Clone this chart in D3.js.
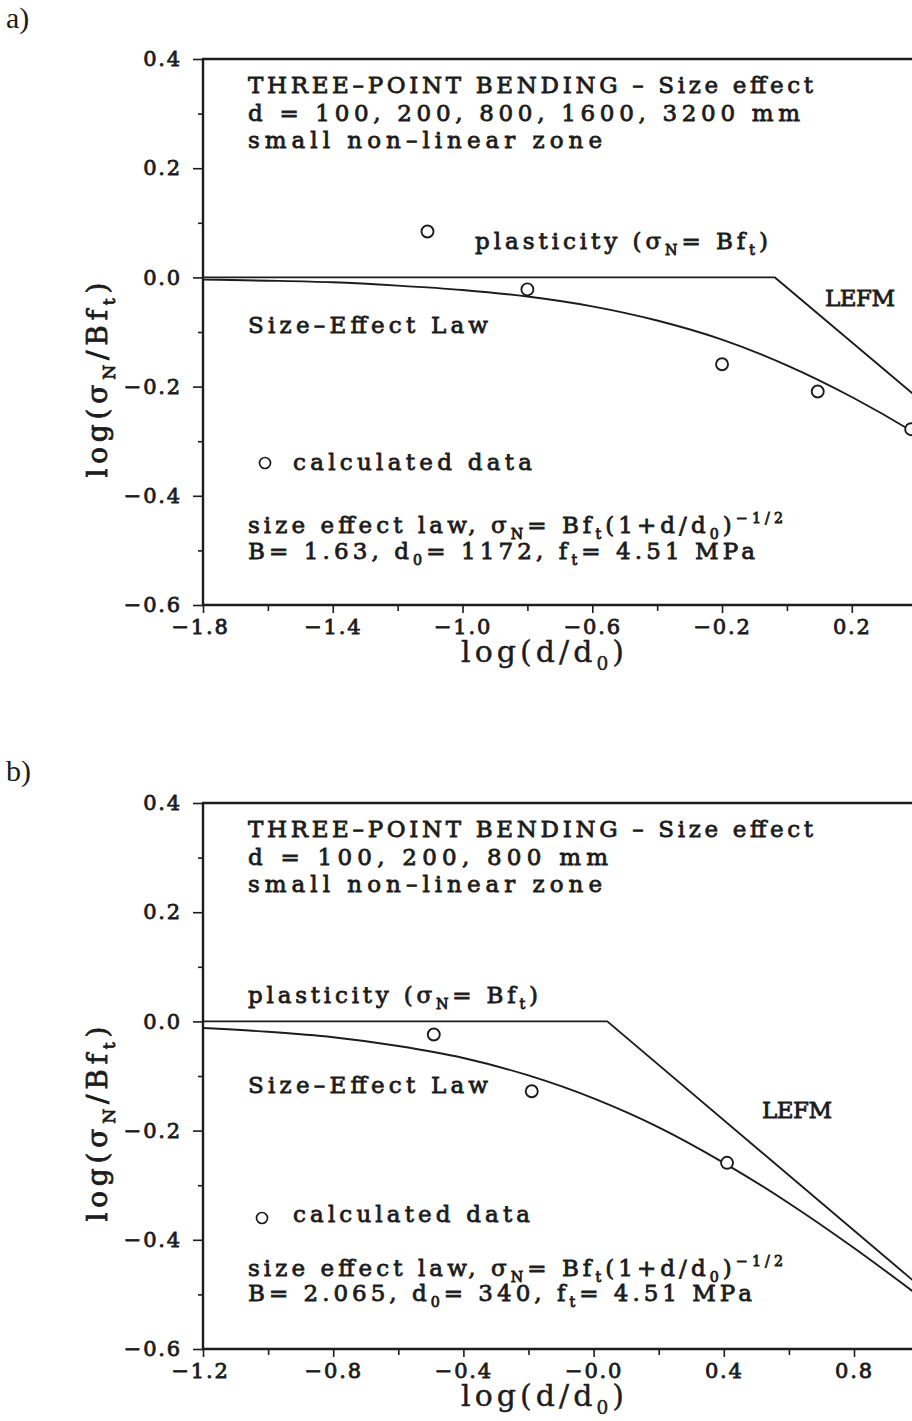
<!DOCTYPE html>
<html>
<head>
<meta charset="utf-8">
<script src="https://cdn.jsdelivr.net/npm/d3@7"></script>
<style>
  body { margin: 0; background: #fff; }
  svg { display: block; }
  text { font-family: "DejaVu Serif", "Liberation Serif", serif; fill: #1c1c1c; }
</style>
</head>
<body>
<div id="chart"></div>
<script>
// ---- values ----
var yTicks = [0.4, 0.2, 0.0, -0.2, -0.4, -0.6];
var yTickLabels = ["0.4", "0.2", "0.0", "\u22120.2", "\u22120.4", "\u22120.6"];
var yMinor = [0.3, 0.1, -0.1, -0.3, -0.5];

// panel a
var aXTicks = [-1.8, -1.4, -1.0, -0.6, -0.2, 0.2];
var aXTickLabels = ["\u22121.8", "\u22121.4", "\u22121.0", "\u22120.6", "\u22120.2", "0.2"];
var aXMinor = [-1.6, -1.2, -0.8, -0.4, 0.0, 0.4];
var aPointsX = [-1.108, -0.800, -0.200, 0.095, 0.383];
var aPointsY = [0.084, -0.022, -0.159, -0.209, -0.278];
var aCurveX = [-1.8, -1.6, -1.4, -1.2, -1.0, -0.8, -0.6, -0.4, -0.2, 0.0, 0.2, 0.4, 0.6];
var aCurveY = [-0.004, -0.006, -0.009, -0.015, -0.023, -0.035, -0.053, -0.079, -0.114, -0.161, -0.219, -0.287, -0.365];
var aLefmX = [-1.8, -0.037, 0.6];
var aLefmY = [0, 0, -0.319];

// panel b
var bXTicks = [-1.2, -0.8, -0.4, 0.0, 0.4, 0.8];
var bXTickLabels = ["\u22121.2", "\u22120.8", "\u22120.4", "\u22120.0", "0.4", "0.8"];
var bXMinor = [-1.0, -0.6, -0.2, 0.2, 0.6, 1.0];
var bPointsX = [-0.491, -0.190, 0.410];
var bPointsY = [-0.024, -0.128, -0.259];
var bCurveX = [-1.2, -1.0, -0.8, -0.6, -0.4, -0.2, 0.0, 0.2, 0.4, 0.6, 0.8, 1.0, 1.2];
var bCurveY = [-0.012, -0.019, -0.029, -0.045, -0.067, -0.099, -0.141, -0.194, -0.259, -0.333, -0.415, -0.503, -0.594];
var bLefmX = [-1.2, 0.042, 1.2];
var bLefmY = [0, 0, -0.585];

var W = 912, H = 1421;
var ink = "#1c1c1c";

var svg = d3.select("#chart").append("svg")
  .attr("width", W)
  .attr("height", H);

// writes a line of text made of plain / sub / sup pieces
function richText(g, parts, x, y, size, len) {
  var t = g.append("text")
    .attr("x", x)
    .attr("y", y)
    .style("font-size", size + "px");
  var shift = 0;
  parts.forEach(function(p) {
    var s = t.append("tspan").text(p[0]);
    var want = p[1] == "sub" ? size * 0.28 : (p[1] == "sup" ? -size * 0.42 : 0);
    if (want != shift) s.attr("dy", want - shift);
    shift = want;
    if (p[1]) s.style("font-size", (size * 0.62) + "px");
  });
  if (len) t.attr("textLength", len).attr("lengthAdjust", "spacing");
  return t;
}

// semi-bold look: regular face with a thin outline
function heavy(sel, w) {
  return sel.attr("stroke", ink).attr("stroke-width", w).attr("paint-order", "stroke");
}

function drawPanel(cfg) {
  var left = 203, top = cfg.top, bottom = cfg.top + 546;
  var g = svg.append("g");

  var x = d3.scaleLinear().domain(cfg.xDomain).range([left, left + 2.4 * cfg.pxPerUnit]);
  var y = d3.scaleLinear().domain([-0.6, 0.4]).range([bottom, top]);

  // minor ticks
  g.append("g")
    .attr("transform", "translate(" + left + ",0)")
    .call(d3.axisLeft(y).tickValues(yMinor).tickSize(5).tickFormat(""))
    .call(function(s) { s.select(".domain").remove(); });
  g.append("g")
    .attr("transform", "translate(0," + bottom + ")")
    .call(d3.axisBottom(x).tickValues(cfg.xMinor).tickSize(6).tickFormat(""))
    .call(function(s) { s.select(".domain").remove(); });

  // major ticks + labels
  var ya = g.append("g")
    .attr("transform", "translate(" + left + ",0)")
    .call(d3.axisLeft(y).tickValues(yTicks).tickSize(10).tickPadding(11)
      .tickFormat(function(d, i) { return yTickLabels[i]; }));
  ya.select(".domain").remove();

  var xa = g.append("g")
    .attr("transform", "translate(0," + bottom + ")")
    .call(d3.axisBottom(x).tickValues(cfg.xTicks).tickSize(8).tickPadding(6)
      .tickFormat(function(d, i) { return cfg.xTickLabels[i]; }));
  xa.select(".domain").remove();
  xa.selectAll(".tick text").filter(function(d, i) { return i == 0; }).attr("dx", cfg.firstDx);

  g.selectAll(".tick line").attr("stroke", ink).attr("stroke-width", 1.6);
  heavy(g.selectAll(".tick text"), 0.8)
    .style("font-family", "DejaVu Serif")
    .style("font-size", "21px")
    .style("letter-spacing", "1.8px")
    .attr("fill", ink);

  // frame: left, top, bottom (right side runs off the page)
  g.append("path")
    .attr("d", "M" + (W + 5) + "," + top + "H" + left + "V" + bottom + "H" + (W + 5))
    .attr("fill", "none")
    .attr("stroke", ink)
    .attr("stroke-width", 2.4);

  var line = d3.line()
    .x(function(d) { return x(d[0]); })
    .y(function(d) { return y(d[1]); });

  g.append("path")
    .datum(cfg.lefmX.map(function(v, i) { return [v, cfg.lefmY[i]]; }))
    .attr("d", line)
    .attr("fill", "none")
    .attr("stroke", ink)
    .attr("stroke-width", 1.9);

  g.append("path")
    .datum(cfg.curveX.map(function(v, i) { return [v, cfg.curveY[i]]; }))
    .attr("d", line.curve(d3.curveMonotoneX))
    .attr("fill", "none")
    .attr("stroke", ink)
    .attr("stroke-width", 1.9);

  g.selectAll("circle.pt")
    .data(cfg.pointsX.map(function(v, i) { return [v, cfg.pointsY[i]]; }))
    .enter()
    .append("circle")
    .attr("class", "pt")
    .attr("cx", function(d) { return x(d[0]); })
    .attr("cy", function(d) { return y(d[1]); })
    .attr("r", 6)
    .attr("fill", "#fff")
    .attr("stroke", ink)
    .attr("stroke-width", 1.9);

  // annotations
  cfg.notes.forEach(function(n) {
    heavy(richText(g, n.parts, n.x, n.y, 23, n.len), 0.8);
  });

  // legend marker for "calculated data"
  g.append("circle")
    .attr("cx", cfg.legend[0])
    .attr("cy", cfg.legend[1])
    .attr("r", 5.5)
    .attr("fill", "none")
    .attr("stroke", ink)
    .attr("stroke-width", 1.7);

  // axis titles
  heavy(richText(g, [["log(d/d", ""], ["0", "sub"], [")", ""]], 461, bottom + 57, 30, 163), 0.4);

  heavy(richText(g, [["log(\u03c3", ""], ["N", "sub"], ["/Bf", ""], ["t", "sub"], [")", ""]], 0, 0, 28, 195), 0.8)
    .attr("text-anchor", "middle")
    .attr("transform", "translate(107," + (top + 321) + ") rotate(-90)");

  // panel letter
  g.append("text")
    .attr("x", 6)
    .attr("y", cfg.letterY)
    .style("font-family", "Liberation Serif")
    .style("font-size", "30px")
    .text(cfg.letter);
}

var heading = [["THREE\u2013POINT BENDING \u2013 Size effect", ""]];
var nonlin = [["small non\u2013linear zone", ""]];
var lawText = [["size effect law, \u03c3", ""], ["N", "sub"], ["= Bf", ""], ["t", "sub"], ["(1+d/d", ""], ["0", "sub"], [")", ""], ["\u22121/2", "sup"]];
var plast = [["plasticity (\u03c3", ""], ["N", "sub"], ["= Bf", ""], ["t", "sub"], [")", ""]];

drawPanel({
  letter: "a)", letterY: 28,
  top: 59,
  xDomain: [-1.8, 0.6],
  pxPerUnit: 324.4,
  xTicks: aXTicks, xTickLabels: aXTickLabels, xMinor: aXMinor, firstDx: -3,
  pointsX: aPointsX, pointsY: aPointsY,
  curveX: aCurveX, curveY: aCurveY,
  lefmX: aLefmX, lefmY: aLefmY,
  legend: [265, 463],
  notes: [
    { parts: heading, x: 248, y: 93, len: 565 },
    { parts: [["d = 100, 200, 800, 1600, 3200 mm", ""]], x: 248, y: 121, len: 552 },
    { parts: nonlin, x: 248, y: 148, len: 354 },
    { parts: plast, x: 475, y: 249, len: 293 },
    { parts: [["LEFM", ""]], x: 825, y: 306, len: 70 },
    { parts: [["Size\u2013Effect Law", ""]], x: 248, y: 333, len: 240 },
    { parts: [["calculated data", ""]], x: 293, y: 470, len: 239 },
    { parts: lawText, x: 248, y: 533, len: 535 },
    { parts: [["B= 1.63, d", ""], ["0", "sub"], ["= 1172, f", ""], ["t", "sub"], ["= 4.51 MPa", ""]], x: 248, y: 559, len: 507 }
  ]
});

drawPanel({
  letter: "b)", letterY: 781,
  top: 803,
  xDomain: [-1.2, 1.2],
  pxPerUnit: 325.5,
  xTicks: bXTicks, xTickLabels: bXTickLabels, xMinor: bXMinor, firstDx: -3,
  pointsX: bPointsX, pointsY: bPointsY,
  curveX: bCurveX, curveY: bCurveY,
  lefmX: bLefmX, lefmY: bLefmY,
  legend: [262, 1218],
  notes: [
    { parts: heading, x: 248, y: 837, len: 565 },
    { parts: [["d = 100, 200, 800 mm", ""]], x: 248, y: 865, len: 360 },
    { parts: nonlin, x: 248, y: 892, len: 354 },
    { parts: plast, x: 248, y: 1003, len: 290 },
    { parts: [["Size\u2013Effect Law", ""]], x: 248, y: 1093, len: 240 },
    { parts: [["LEFM", ""]], x: 762, y: 1118, len: 70 },
    { parts: [["calculated data", ""]], x: 293, y: 1222, len: 237 },
    { parts: lawText, x: 248, y: 1276, len: 535 },
    { parts: [["B= 2.065, d", ""], ["0", "sub"], ["= 340, f", ""], ["t", "sub"], ["= 4.51 MPa", ""]], x: 248, y: 1301, len: 504 }
  ]
});
</script>
</body>
</html>
